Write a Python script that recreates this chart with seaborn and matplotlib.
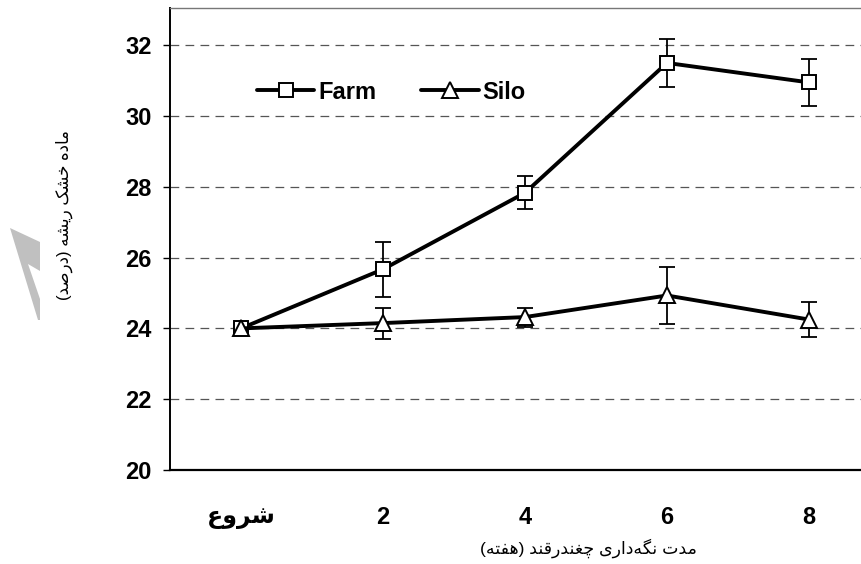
import numpy as np
import pandas as pd
import matplotlib
matplotlib.use("Agg")
import matplotlib.pyplot as plt
from matplotlib.patches import Polygon
import seaborn as sns

# -------------------------------
# Data
# -------------------------------
weeks = ["شروع", "2", "4", "6", "8"]
farm_mean = [24.0, 25.67, 27.83, 31.5, 30.95]
farm_err = [0.0, 0.78, 0.47, 0.67, 0.67]
silo_mean = [24.0, 24.15, 24.32, 24.93, 24.25]
silo_err = [0.0, 0.44, 0.27, 0.81, 0.49]

x_label = "مدت نگه\u200cداری چغندرقند (هفته)"
y_label = "ماده خشک ریشه (درصد)"

# -------------------------------
# tiny Persian shaper (matplotlib has no RTL / joining support)
# -------------------------------
FORMS = {
    'ا': ('\uFE8D', '\uFE8E', None, None),
    'د': ('\uFEA9', '\uFEAA', None, None),
    'ر': ('\uFEAD', '\uFEAE', None, None),
    'و': ('\uFEED', '\uFEEE', None, None),
    'م': ('\uFEE1', '\uFEE2', '\uFEE3', '\uFEE4'),
    'ه': ('\uFEE9', '\uFEEA', '\uFEEB', '\uFEEC'),
    'خ': ('\uFEA5', '\uFEA6', '\uFEA7', '\uFEA8'),
    'ش': ('\uFEB5', '\uFEB6', '\uFEB7', '\uFEB8'),
    'ص': ('\uFEB9', '\uFEBA', '\uFEBB', '\uFEBC'),
    'ت': ('\uFE95', '\uFE96', '\uFE97', '\uFE98'),
    'ن': ('\uFEE5', '\uFEE6', '\uFEE7', '\uFEE8'),
    'غ': ('\uFECD', '\uFECE', '\uFECF', '\uFED0'),
    'ق': ('\uFED5', '\uFED6', '\uFED7', '\uFED8'),
    'ف': ('\uFED1', '\uFED2', '\uFED3', '\uFED4'),
    'ع': ('\uFEC9', '\uFECA', '\uFECB', '\uFECC'),
    'ک': ('\uFB8E', '\uFB8F', '\uFB90', '\uFB91'),
    'گ': ('\uFB92', '\uFB93', '\uFB94', '\uFB95'),
    'چ': ('\uFB7A', '\uFB7B', '\uFB7C', '\uFB7D'),
    'ی': ('\uFBFC', '\uFBFD', '\uFBFE', '\uFBFF'),
}


def fa(text):
    if not any(c in FORMS for c in text):
        return text
    out = []
    n = len(text)
    for i, c in enumerate(text):
        if c not in FORMS:
            if c != '\u200c':
                out.append({'(': ')', ')': '('}.get(c, c))
            continue
        prev = text[i - 1] if i > 0 else ''
        nxt = text[i + 1] if i < n - 1 else ''
        join_prev = prev in FORMS and FORMS[prev][2] is not None
        join_next = FORMS[c][2] is not None and nxt in FORMS
        iso, fin, ini, med = FORMS[c]
        if join_prev and join_next:
            out.append(med)
        elif join_prev:
            out.append(fin)
        elif join_next:
            out.append(ini)
        else:
            out.append(iso)
    return ''.join(reversed(out))


# -------------------------------
# Plot
# -------------------------------
sns.set_style("white")
plt.rcParams['font.family'] = ['Liberation Sans', 'DejaVu Sans']
plt.rcParams.update({'text.color': 'black', 'axes.labelcolor': 'black',
                     'xtick.color': 'black', 'ytick.color': 'black'})

df = pd.DataFrame({
    'pos': list(range(len(weeks))) * 2,
    'value': farm_mean + silo_mean,
    'err': farm_err + silo_err,
    'series': ['Farm'] * len(weeks) + ['Silo'] * len(weeks),
})

fig = plt.figure(figsize=(8.61, 5.64), dpi=100)
ax = fig.add_axes([0.1974, 0.1667, 0.8246, 0.819])

markers = {'Farm': 's', 'Silo': '^'}
for name in ['Farm', 'Silo']:
    sub = df[df['series'] == name]
    ax.errorbar(sub['pos'], sub['value'], yerr=sub['err'], fmt='none',
                ecolor='black', elinewidth=1.3, capsize=6, capthick=1.3, zorder=3)
    sns.lineplot(data=sub, x='pos', y='value', ax=ax, color='black',
                 linewidth=2.8, marker=markers[name], markersize=10 if name == 'Farm' else 11,
                 markerfacecolor='white', markeredgecolor='black',
                 markeredgewidth=1.4, label=name, zorder=4)

ax.set_xlim(-0.5, 4.5)
ax.set_ylim(20, 33.05)
ax.set_yticks(range(20, 33, 2))
ax.set_xticks(range(len(weeks)))
ax.set_xticklabels([fa(w) for w in weeks])

for t in ax.get_yticklabels() + ax.get_xticklabels():
    t.set_fontsize(17)
    t.set_fontweight('bold')
    t.set_color('black')

ax.tick_params(axis='y', length=5, width=1, direction='out', pad=8, left=True)
ax.tick_params(axis='x', length=0, pad=26)

for y in range(22, 33, 2):
    ax.axhline(y, color='#555555', linewidth=0.9, linestyle=(0, (7, 5)), zorder=1)

ax.spines['left'].set_linewidth(1.4)
ax.spines['bottom'].set_linewidth(1.6)
ax.spines['top'].set_linewidth(1.0)
ax.spines['top'].set_color('#777777')
ax.spines['right'].set_visible(False)
for s in ['left', 'bottom']:
    ax.spines[s].set_color('black')

ax.set_xlabel(fa(x_label), fontsize=12.5, color='black')
ax.set_ylabel(fa(y_label), fontsize=12, color='black')
ax.xaxis.set_label_coords(0.59, -0.148)
ax.yaxis.set_label_coords(-0.136, 0.552)

leg = ax.legend(loc='center left', bbox_to_anchor=(0.122, 0.818), ncol=2,
                frameon=False, handlelength=2.45, handletextpad=0.15,
                columnspacing=1.9, borderpad=0, borderaxespad=0,
                prop={'weight': 'bold', 'size': 17})

# gray stroke mark at the left edge
mark = np.array([[10, 228], [40, 242], [40, 271], [28, 264], [40, 299],
                 [40, 320], [38, 320]], dtype=float)
fig.patches.append(Polygon(
    np.column_stack([mark[:, 0] / 861, 1 - mark[:, 1] / 564]),
    closed=True, transform=fig.transFigure, facecolor='#c0c0c0',
    edgecolor='none'))

fig.savefig("out.png", dpi=100)
